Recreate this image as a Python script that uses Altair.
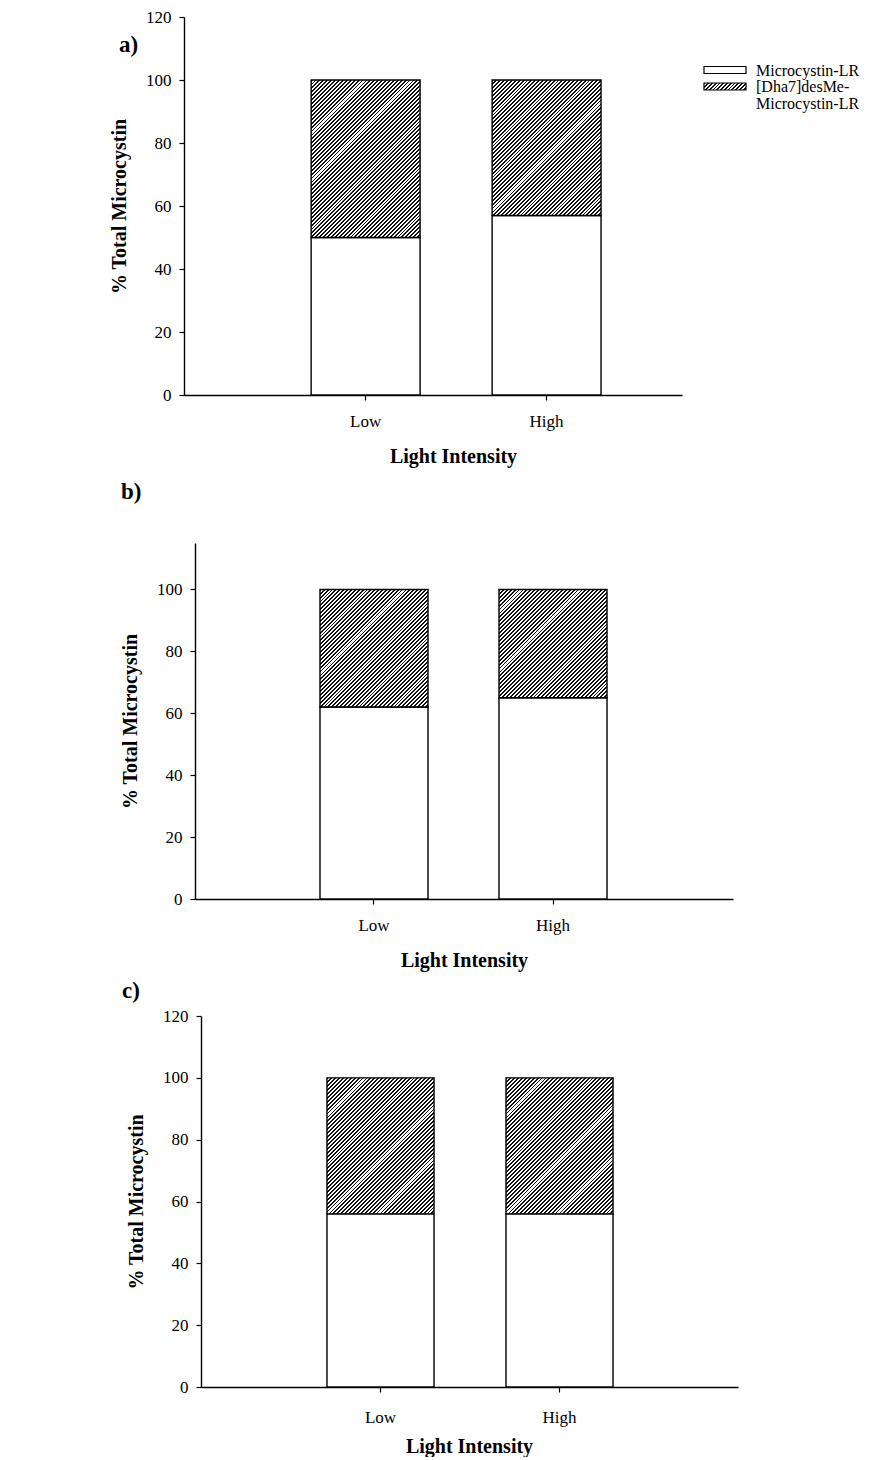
import altair as alt
import pandas as pd

# ---------------- data ----------------
categories = ["Low", "High"]
lr_a = [50, 57]          # Microcystin-LR (% of total), panel a
lr_b = [62, 65]          # panel b
lr_c = [56, 56]          # panel c
totals = [100, 100]      # stacked total
letters = ["a)", "b)", "c)"]
ticks_a = [0, 20, 40, 60, 80, 100, 120]
ticks_b = [0, 20, 40, 60, 80, 100]
ticks_c = [0, 20, 40, 60, 80, 100, 120]
ymax_list = [120, 115, 120]
legend_entries = ["Microcystin-LR", "[Dha7]desMe-\nMicrocystin-LR"]
x_title = "Light Intensity"
y_title = "% Total Microcystin"

FONT = "Liberation Serif"
ORIGIN_X = 183  # common plot-area left edge (page px)


def hatch(w, h, period=3.9, ink=0.48):
    """Diagonal (////) hatch as a striped linear gradient in bbox units."""
    k = (w + h) / (w * w + h * h)
    n = max(1, round((w + h) / period))
    stops = []
    for i in range(n):
        a = i / n
        b = (i + ink) / n
        c = (i + 1) / n
        stops += [
            {"offset": a, "color": "#111111"},
            {"offset": b, "color": "#111111"},
            {"offset": b, "color": "white"},
            {"offset": c, "color": "white"},
        ]
    return {"gradient": "linear", "x1": 0, "y1": 0, "x2": w * k, "y2": h * k, "stops": stops}


layouts = [
    dict(axis_x=183, top=17, W=498, H=378, pi=0.398, po=0.575, al=0.611,
         lab=31, tit=67, tc=452, letter=(118, 52), by=(8, 467)),
    dict(axis_x=194, top=544, W=538, H=356, pi=0.3966, po=0.701, al=0.498,
         lab=31, tit=67, tc=463, letter=(120, 500), by=(470, 972)),
    dict(axis_x=200, top=1015, W=537, H=371, pi=0.402, po=0.701, al=0.502,
         lab=35, tit=65, tc=468, letter=(121, 997), by=(972, 1455)),
]


def panel(lr, letter, ticks, ymax, L, legend=False):
    W, H = L["W"], L["H"]
    top = L["top"]
    xoff = L["axis_x"] - ORIGIN_X
    df = pd.DataFrame({"Light": categories, "lr": lr, "total": totals})
    step = W / (2 - L["pi"] + 2 * L["po"])
    bw = step * (1 - L["pi"])
    ppu = H / ymax

    x = alt.X(
        "Light:N",
        sort=categories,
        scale=alt.Scale(domain=categories, range=[xoff, xoff + W],
                        paddingInner=L["pi"], paddingOuter=L["po"], align=L["al"]),
        axis=alt.Axis(
            title=x_title, labelAngle=0, tickSize=5, labelPadding=L["lab"] - 5,
            labelBaseline="alphabetic", titleX=L["tc"] - ORIGIN_X, titleY=L["tit"],
            titleBaseline="alphabetic", titleAnchor="start", titleAlign="center",
        ),
    )
    y = alt.Y(
        "lr:Q",
        scale=alt.Scale(domain=[0, ymax], nice=False, zero=True),
        axis=alt.Axis(
            title=y_title, values=ticks, tickSize=5, labelPadding=8, offset=-xoff,
            titleX=-65, titleY=H / 2, titleAngle=-90, titleBaseline="middle",
            titleAlign="center", titleAnchor="start",
        ),
    )

    base = alt.Chart(df)
    layers = [
        base.mark_bar(fill="white", stroke="black", strokeWidth=1.4).encode(x=x, y=y)
    ]
    for cat, v, t in zip(categories, lr, totals):
        h = (t - v) * ppu
        layers.append(
            base.transform_filter(alt.datum.Light == cat)
            .mark_bar(fill=hatch(bw, h), stroke="black", strokeWidth=1.4)
            .encode(x=x, y=y, y2="total:Q")
        )

    lx, ly = L["letter"]
    layers.append(
        alt.Chart(pd.DataFrame({"t": [letter]}))
        .mark_text(align="left", baseline="alphabetic", font=FONT,
                   fontSize=23, fontWeight="bold", color="black")
        .encode(text="t:N", x=alt.value(lx - ORIGIN_X), y=alt.value(ly - top))
    )

    # invisible frame that fixes each panel's outer bounds
    by0, by1 = L["by"]
    layers.append(
        alt.Chart(pd.DataFrame({"d": [0]}))
        .mark_rule(color="white", strokeWidth=0.5)
        .encode(x=alt.value(8 - ORIGIN_X), y=alt.value(by0 - top), y2=alt.value(by1 - top))
    )

    if legend:
        sx0, sx1 = 520, 562
        layers.append(
            alt.Chart(pd.DataFrame({"d": [0]}))
            .mark_rect(fill="white", stroke="black", strokeWidth=1.2)
            .encode(x=alt.value(sx0), x2=alt.value(sx1), y=alt.value(49.5), y2=alt.value(56.5))
        )
        layers.append(
            alt.Chart(pd.DataFrame({"d": [0]}))
            .mark_rect(fill=hatch(sx1 - sx0, 7, period=3.9), stroke="black", strokeWidth=1.2)
            .encode(x=alt.value(sx0), x2=alt.value(sx1), y=alt.value(66), y2=alt.value(73))
        )
        for txt, yb in zip(legend_entries, [58.5, 75]):
            layers.append(
                alt.Chart(pd.DataFrame({"t": [txt]}))
                .mark_text(align="left", baseline="alphabetic", font=FONT,
                           fontSize=16, lineHeight=17, lineBreak="\n", color="black")
                .encode(text="t:N", x=alt.value(572), y=alt.value(yb))
            )

    return alt.layer(*layers).properties(width=xoff + W, height=H)


pa = panel(lr_a, letters[0], ticks_a, ymax_list[0], layouts[0], legend=True)
pb = panel(lr_b, letters[1], ticks_b, ymax_list[1], layouts[1])
pc = panel(lr_c, letters[2], ticks_c, ymax_list[2], layouts[2])

chart = (
    alt.vconcat(pa, pb, pc, spacing=0)
    .properties(padding={"left": 0, "top": -1, "right": 0, "bottom": 0})
    .configure_view(stroke=None)
    .configure_axis(
        labelFont=FONT, titleFont=FONT, labelFontSize=17, titleFontSize=20,
        titleFontWeight="bold", labelColor="black", titleColor="black",
        domainColor="black", tickColor="black", domainWidth=1.4, tickWidth=1.2,
        grid=False,
    )
)

chart.save("out.html", embed_options={"renderer": "svg", "actions": False})
